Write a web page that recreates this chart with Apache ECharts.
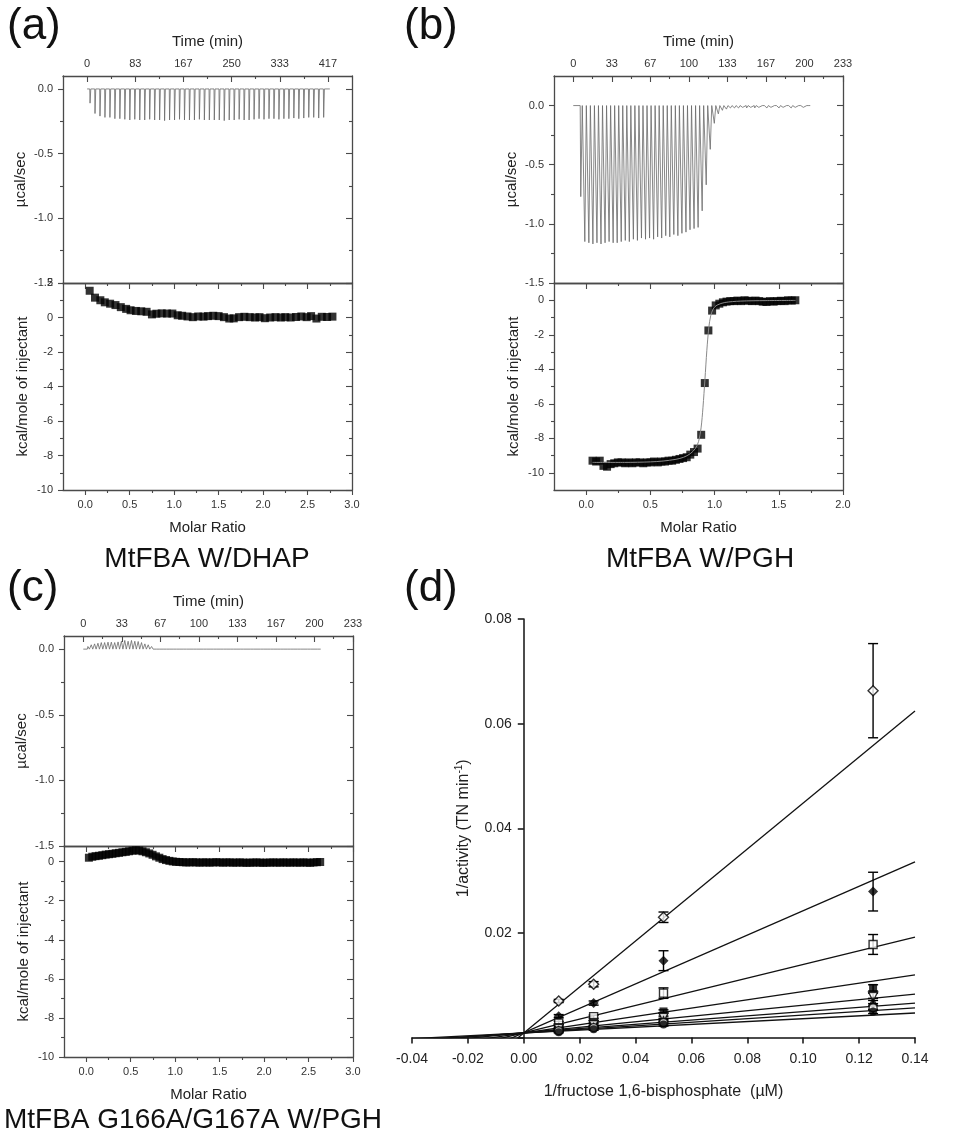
<!DOCTYPE html>
<html><head><meta charset="utf-8">
<script src="https://cdn.jsdelivr.net/npm/echarts@6/dist/echarts.min.js"></script>
<style>html,body{margin:0;padding:0;background:#fff}#c{width:968px;height:1134px}</style>
</head><body><div id="c"></div>
<script>
// ---------------- DATA ----------------
// Panel (a) : MtFBA with DHAP
const aTimeTicks = [0, 83.333, 166.667, 250, 333.333, 416.667];
const aTimeMinor = [41.667, 125, 208.333, 291.667, 375];
const aRun = [0, 420];
const aInjTime = [4.6,13.2,21.8,30.4,39.0,47.6,56.2,64.8,73.4,82.0,90.6,99.2,107.8,116.4,125.0,133.6,142.2,150.8,159.4,168.0,176.6,185.2,193.8,202.4,211.0,219.6,228.2,236.8,245.4,254.0,262.6,271.2,279.8,288.4,297.0,305.6,314.2,322.8,331.4,340.0,348.6,357.2,365.8,374.4,383.0,391.6,400.2,408.8];
const aPeak = [-0.11,-0.19,-0.21,-0.22,-0.22,-0.23,-0.23,-0.235,-0.24,-0.235,-0.24,-0.24,-0.235,-0.24,-0.24,-0.245,-0.24,-0.24,-0.235,-0.24,-0.24,-0.24,-0.235,-0.24,-0.24,-0.24,-0.24,-0.245,-0.24,-0.24,-0.235,-0.24,-0.24,-0.235,-0.23,-0.235,-0.23,-0.23,-0.235,-0.23,-0.23,-0.225,-0.23,-0.225,-0.22,-0.22,-0.225,-0.22];
const aRatio = [0.05,0.11,0.17,0.22,0.28,0.34,0.40,0.46,0.51,0.57,0.63,0.69,0.75,0.80,0.86,0.92,0.98,1.04,1.09,1.15,1.21,1.27,1.33,1.38,1.44,1.50,1.56,1.62,1.67,1.73,1.79,1.85,1.91,1.96,2.02,2.08,2.14,2.20,2.25,2.31,2.37,2.43,2.49,2.54,2.60,2.66,2.72,2.78];
const aHeat = [1.55,1.15,1.00,0.88,0.80,0.72,0.60,0.50,0.42,0.38,0.36,0.33,0.18,0.22,0.24,0.23,0.23,0.13,0.10,0.06,0.02,0.06,0.05,0.08,0.10,0.08,0.02,-0.06,-0.05,0.02,0.04,0.02,0.00,0.02,-0.04,0.00,0.02,0.00,0.02,0.00,0.03,0.06,0.02,0.08,-0.06,0.04,0.03,0.05];

// Panel (b) : MtFBA with PGH
const bTimeTicks = [0, 33.333, 66.667, 100, 133.333, 166.667, 200, 233.333];
const bTimeMinor = [16.667, 50, 83.333, 116.667, 150, 183.333, 216.667];
const bRun = [0, 205];
const bInjTime = [6.0,9.5,13.0,16.5,20.0,23.5,27.0,30.5,34.0,37.5,41.0,44.5,48.0,51.5,55.0,58.5,62.0,65.5,69.0,72.5,76.0,79.5,83.0,86.5,90.0,93.5,97.0,100.5,104.0,107.5,111.0,114.5,118.0,121.5,125.0,128.5,132.0,135.5,139.0,142.5,146.0,149.5,153.0,156.5,160.0,163.5,167.0,170.5,174.0,177.5,181.0,184.5,188.0,191.5,195.0,198.5,202.0];
const bPeak = [-0.77,-1.15,-1.16,-1.17,-1.16,-1.17,-1.16,-1.15,-1.16,-1.16,-1.15,-1.14,-1.15,-1.13,-1.14,-1.12,-1.13,-1.12,-1.13,-1.11,-1.12,-1.10,-1.11,-1.09,-1.10,-1.08,-1.07,-1.05,-1.04,-1.03,-0.89,-0.67,-0.37,-0.15,-0.07,-0.04,-0.03,-0.02,-0.02,-0.02,-0.015,-0.02,-0.015,-0.02,-0.015,-0.015,-0.02,-0.015,-0.015,-0.02,-0.015,-0.015,-0.02,-0.015,-0.015,-0.015,-0.015];
const bRatio = [0.050,0.078,0.106,0.135,0.163,0.191,0.219,0.247,0.276,0.304,0.332,0.360,0.388,0.417,0.445,0.473,0.501,0.529,0.558,0.586,0.614,0.642,0.670,0.699,0.727,0.755,0.783,0.811,0.840,0.868,0.896,0.924,0.952,0.981,1.009,1.037,1.065,1.093,1.122,1.150,1.178,1.206,1.234,1.263,1.291,1.319,1.347,1.375,1.404,1.432,1.460,1.488,1.516,1.545,1.573,1.601,1.629];
const bHeat = [-9.30,-9.35,-9.30,-9.60,-9.65,-9.50,-9.45,-9.40,-9.40,-9.45,-9.40,-9.45,-9.40,-9.40,-9.45,-9.40,-9.40,-9.35,-9.40,-9.35,-9.35,-9.30,-9.30,-9.25,-9.20,-9.15,-9.10,-8.95,-8.80,-8.60,-7.80,-4.80,-1.75,-0.60,-0.30,-0.20,-0.12,-0.08,-0.05,-0.05,-0.02,-0.05,0.00,-0.03,-0.05,-0.02,-0.05,-0.08,-0.10,-0.05,-0.08,-0.05,-0.03,-0.05,0.00,-0.02,0.00];
const bFitRatio = [0.05,0.30,0.50,0.60,0.70,0.76,0.81,0.85,0.875,0.895,0.91,0.925,0.94,0.955,0.97,0.99,1.02,1.08,1.20,1.40,1.63];
const bFitHeat = [-9.40,-9.40,-9.37,-9.32,-9.22,-9.10,-8.90,-8.60,-8.20,-7.40,-6.20,-4.60,-2.90,-1.60,-0.90,-0.50,-0.28,-0.13,-0.05,-0.02,-0.01];

// Panel (c) : MtFBA G166A/G167A with PGH
const cTimeTicks = [0, 33.333, 66.667, 100, 133.333, 166.667, 200, 233.333];
const cTimeMinor = [16.667, 50, 83.333, 116.667, 150, 183.333, 216.667];
const cRun = [0, 206];
const cInjTime = [3.5,6.4,9.3,12.2,15.1,18.0,20.9,23.8,26.7,29.6,32.5,35.4,38.3,41.2,44.1,47.0,49.9,52.8,55.7,58.6,61.5,64.4,67.3,70.2,73.1,76.0,78.9,81.8,84.7,87.6,90.5,93.4,96.3,99.2,102.1,105.0,107.9,110.8,113.7,116.6,119.5,122.4,125.3,128.2,131.1,134.0,136.9,139.8,142.7,145.6,148.5,151.4,154.3,157.2,160.1,163.0,165.9,168.8,171.7,174.6,177.5,180.4,183.3,186.2,189.1,192.0,194.9,197.8,200.7,203.6];
const cPeak = [0.020,0.033,0.040,0.045,0.050,0.050,0.053,0.053,0.050,0.055,0.060,0.066,0.060,0.066,0.060,0.058,0.050,0.040,0.033,0.020,0.013,0.008,0.005,0.004,0.003,0.003,0.003,0.002,0.003,0.002,0.003,0.002,0.002,0.003,0.002,0.002,0.003,0.002,0.002,0.003,0.002,0.002,0.003,0.002,0.002,0.003,0.002,0.002,0.003,0.002,0.002,0.003,0.002,0.002,0.003,0.002,0.002,0.003,0.002,0.002,0.003,0.002,0.002,0.003,0.002,0.002,0.003,0.002,0.002,0.003];
const cRatio = [0.030,0.068,0.105,0.143,0.181,0.219,0.256,0.294,0.332,0.369,0.407,0.445,0.482,0.520,0.558,0.596,0.633,0.671,0.709,0.746,0.784,0.822,0.859,0.897,0.935,0.973,1.010,1.048,1.086,1.123,1.161,1.199,1.236,1.274,1.312,1.350,1.387,1.425,1.463,1.500,1.538,1.576,1.613,1.651,1.689,1.727,1.764,1.802,1.840,1.877,1.915,1.953,1.990,2.028,2.066,2.104,2.141,2.179,2.217,2.254,2.292,2.330,2.367,2.405,2.443,2.481,2.518,2.556,2.594,2.631];
const cHeat = [0.20,0.25,0.28,0.30,0.33,0.36,0.38,0.40,0.43,0.45,0.48,0.50,0.53,0.56,0.58,0.57,0.53,0.48,0.42,0.35,0.27,0.20,0.13,0.08,0.04,0.01,-0.01,-0.02,-0.03,-0.04,-0.04,-0.03,-0.04,-0.05,-0.04,-0.04,-0.05,-0.04,-0.03,-0.04,-0.05,-0.04,-0.04,-0.05,-0.05,-0.04,-0.05,-0.06,-0.05,-0.05,-0.04,-0.05,-0.06,-0.05,-0.05,-0.04,-0.05,-0.05,-0.04,-0.05,-0.05,-0.04,-0.05,-0.05,-0.04,-0.05,-0.06,-0.04,-0.03,-0.02];

// ITC axis ticks shared
const powerTicks = [0, -0.5, -1.0, -1.5];
const powerMinor = [-0.25, -0.75, -1.25];
const ratioTicks3 = [0, 0.5, 1.0, 1.5, 2.0, 2.5, 3.0];
const ratioMinor3 = [0.25, 0.75, 1.25, 1.75, 2.25, 2.75];
const ratioTicks2 = [0, 0.5, 1.0, 1.5, 2.0];
const ratioMinor2 = [0.25, 0.75, 1.25, 1.75];
const heatTicks = [0, -2, -4, -6, -8, -10];
const heatTicksA = [2, 0, -2, -4, -6, -8, -10];
const heatMinorA = [1, -1, -3, -5, -7, -9];
const heatMinor = [-1, -3, -5, -7, -9];

// Panel (d) : double reciprocal plot
const dConc = [0.0125, 0.025, 0.05, 0.125];
const dMean = [
  [0.0070, 0.0102, 0.0230, 0.0663],
  [0.0041, 0.0066, 0.0147, 0.0279],
  [0.0028, 0.0040, 0.0085, 0.0178],
  [0.0020, 0.0030, 0.0050, 0.0095],
  [0.0017, 0.0024, 0.0038, 0.0078],
  [0.0015, 0.0021, 0.0034, 0.0070],
  [0.0013, 0.0019, 0.0029, 0.0057],
  [0.0010, 0.0016, 0.0025, 0.0050]
];
const dErr = [
  [0.0003, 0.0005, 0.0010, 0.0090],
  [0.0003, 0.0004, 0.0019, 0.0037],
  [0.0003, 0.0003, 0.0010, 0.0019],
  [0.0002, 0.0002, 0.0003, 0.0006],
  [0.0002, 0.0002, 0.0003, 0.0007],
  [0.0002, 0.0002, 0.0003, 0.0005],
  [0.0002, 0.0002, 0.0003, 0.0005],
  [0.0001, 0.0002, 0.0003, 0.0004]
];
const fitX = [-0.04, 0.14];
const fitLeftY = [-0.0167, -0.0084, -0.0043, -0.0023, -0.0012, -0.0007, -0.0005, -0.0002];
const fitRightY = [0.0624, 0.0336, 0.0192, 0.0120, 0.0083, 0.0066, 0.0057, 0.0047];

const panelLetters = ['(a)', '(b)', '(c)', '(d)'];
const captions = ['MtFBA W/DHAP', 'MtFBA W/PGH', 'MtFBA G166A/G167A W/PGH'];

// ---------------- BUILD ----------------
const FONT = "'Liberation Sans', Arial, Helvetica, sans-serif";
const FRAME = '#4a4a4a';
const LABEL = '#333';
const grids = [], xAxes = [], yAxes = [], series = [];

function ax(kind, gi, pos, min, max, o) {
  o = o || {};
  const a = {
    type: 'value', gridIndex: gi, position: pos, min: min, max: max,
    axisLine: { show: !!o.line, onZero: false, lineStyle: { color: FRAME, width: 1.3 } },
    axisTick: o.ticks ? { show: true, inside: !!o.inside, length: o.len || 5, customValues: o.ticks, lineStyle: { color: FRAME, width: 1.1 } } : { show: false },
    axisLabel: o.labels ? { show: true, customValues: o.labels, formatter: o.fmt, margin: o.margin || 8, fontSize: 11, color: LABEL, fontFamily: FONT } : { show: false },
    splitLine: { show: false }, minorTick: { show: false }, minorSplitLine: { show: false }
  };
  if (o.name) {
    a.name = o.name; a.nameLocation = 'middle'; a.nameGap = o.nameGap;
    a.nameTextStyle = { fontSize: 15, color: '#222', fontFamily: FONT };
  }
  const arr = kind === 'x' ? xAxes : yAxes;
  arr.push(a); return arr.length - 1;
}

function itc(P) {
  const w = P.r - P.l, U = P.up, L = P.lo;
  const gU = grids.push({ left: P.l, top: P.t, width: w, height: P.m - P.t, outerBoundsMode: 'none' }) - 1;
  const gL = grids.push({ left: P.l, top: P.m, width: w, height: P.b - P.m, outerBoundsMode: 'none' }) - 1;
  const fmtInt = v => String(Math.round(v));
  const xT = ax('x', gU, 'top', U.xmin, U.xmax, { line: true, ticks: U.xMaj, inside: true, len: 6, labels: U.xMaj, fmt: fmtInt, margin: 7, name: 'Time (min)', nameGap: 27 });
  ax('x', gU, 'top', U.xmin, U.xmax, { ticks: U.xMin, inside: true, len: 3 });
  ax('x', gU, 'bottom', U.xmin, U.xmax, { line: true });
  const yU = ax('y', gU, 'left', U.ymin, U.ymax, { line: true, ticks: U.yMaj, len: 5, labels: U.yMaj, fmt: v => v.toFixed(1), margin: 10, name: 'µcal/sec', nameGap: 35 });
  ax('y', gU, 'left', U.ymin, U.ymax, { ticks: U.yMin, len: 3 });
  ax('y', gU, 'right', U.ymin, U.ymax, { line: true, ticks: U.yMaj, inside: true, len: 6 });
  ax('y', gU, 'right', U.ymin, U.ymax, { ticks: U.yMin, inside: true, len: 3 });

  const xB = ax('x', gL, 'bottom', L.xmin, L.xmax, { line: true, ticks: L.xMaj, len: 5, labels: L.xMaj, fmt: v => v.toFixed(1), margin: 9, name: 'Molar Ratio', nameGap: 30 });
  ax('x', gL, 'bottom', L.xmin, L.xmax, { ticks: L.xMin, len: 3 });
  ax('x', gL, 'top', L.xmin, L.xmax, { line: true, ticks: L.xMaj, inside: true, len: 6 });
  ax('x', gL, 'top', L.xmin, L.xmax, { ticks: L.xMin, inside: true, len: 3 });
  const yL = ax('y', gL, 'left', L.ymin, L.ymax, { line: true, ticks: L.yMaj, len: 5, labels: L.yMaj, fmt: fmtInt, margin: 10, name: 'kcal/mole of injectant', nameGap: 33 });
  ax('y', gL, 'left', L.ymin, L.ymax, { ticks: L.yMin, len: 3 });
  ax('y', gL, 'right', L.ymin, L.ymax, { line: true, ticks: L.yMaj, inside: true, len: 6 });
  ax('y', gL, 'right', L.ymin, L.ymax, { ticks: L.yMin, inside: true, len: 3 });

  // thermogram line built from injection times & peak heights
  const d = [[P.run[0], 0]];
  P.inj.forEach((t, i) => { d.push([t, 0], [t + 0.5, P.peak[i]], [t + 1.8, 0]); });
  d.push([P.run[1], 0]);
  series.push({ type: 'line', xAxisIndex: xT, yAxisIndex: yU, data: d, showSymbol: false, symbol: 'none',
    lineStyle: { color: '#6a6a6a', width: 0.8 }, animation: false, z: 3 });
  series.push({ type: 'scatter', xAxisIndex: xB, yAxisIndex: yL, data: P.ratio.map((x, i) => [x, P.heat[i]]),
    symbol: 'rect', symbolSize: 8, itemStyle: { color: '#000' }, animation: false, z: 3 });
  if (P.fitX) {
    series.push({ type: 'line', xAxisIndex: xB, yAxisIndex: yL, data: P.fitX.map((x, i) => [x, P.fitY[i]]), smooth: 0.3,
      showSymbol: false, symbol: 'none', lineStyle: { color: '#8a8a8a', width: 1 }, animation: false, z: 4 });
  }
}

itc({ l: 63, r: 352, t: 76, m: 283, b: 490, run: aRun, inj: aInjTime, peak: aPeak, ratio: aRatio, heat: aHeat,
  up: { xmin: -41.667, xmax: 458.333, xMaj: aTimeTicks, xMin: aTimeMinor, ymin: -1.5, ymax: 0.1, yMaj: powerTicks, yMin: powerMinor },
  lo: { xmin: -0.25, xmax: 3.0, xMaj: ratioTicks3, xMin: ratioMinor3, ymin: -10, ymax: 2, yMaj: heatTicksA, yMin: heatMinorA } });

itc({ l: 554, r: 843, t: 76, m: 283, b: 490, run: bRun, inj: bInjTime, peak: bPeak, ratio: bRatio, heat: bHeat, fitX: bFitRatio, fitY: bFitHeat,
  up: { xmin: -16.667, xmax: 233.333, xMaj: bTimeTicks, xMin: bTimeMinor, ymin: -1.5, ymax: 0.25, yMaj: powerTicks, yMin: powerMinor },
  lo: { xmin: -0.25, xmax: 2.0, xMaj: ratioTicks2, xMin: ratioMinor2, ymin: -11, ymax: 1, yMaj: heatTicks, yMin: heatMinor } });

itc({ l: 64, r: 353, t: 636, m: 846, b: 1057, run: cRun, inj: cInjTime, peak: cPeak, ratio: cRatio, heat: cHeat,
  up: { xmin: -16.667, xmax: 233.333, xMaj: cTimeTicks, xMin: cTimeMinor, ymin: -1.5, ymax: 0.1, yMaj: powerTicks, yMin: powerMinor },
  lo: { xmin: -0.25, xmax: 3.0, xMaj: ratioTicks3, xMin: ratioMinor3, ymin: -10, ymax: 0.8, yMaj: heatTicks, yMin: heatMinor } });

// Panel (d)
const D_LEFT = 412, D_WIDTH = 503, D_XMIN = -0.04, D_XMAX = 0.14;
const gD = grids.push({ left: D_LEFT, top: 619, width: D_WIDTH, height: 418.6, outerBoundsMode: 'none' }) - 1;
const xD = xAxes.push({ type: 'value', gridIndex: gD, position: 'bottom', min: D_XMIN, max: D_XMAX, interval: 0.02,
  axisLine: { show: true, onZero: false, lineStyle: { color: '#111', width: 1.5 } },
  axisTick: { show: true, inside: false, length: 6, lineStyle: { color: '#111', width: 1.5 } },
  axisLabel: { margin: 15, fontSize: 14, color: '#222', fontFamily: FONT, formatter: v => (Math.abs(v) < 1e-9 ? 0 : v).toFixed(2) },
  splitLine: { show: false },
  name: '1/fructose 1,6-bisphosphate  (µM)', nameLocation: 'middle', nameGap: 46,
  nameTextStyle: { fontSize: 16, color: '#222', fontFamily: FONT } }) - 1;
// y axis sits at x = 0: shift it inward from the grid's left edge
const yOffset = -(0 - D_XMIN) / (D_XMAX - D_XMIN) * D_WIDTH;
const yD = yAxes.push({ type: 'value', gridIndex: gD, position: 'left', offset: yOffset, min: 0, max: 0.08, interval: 0.02,
  axisLine: { show: true, onZero: false, lineStyle: { color: '#111', width: 1.5 } },
  axisTick: { show: true, inside: false, length: 6, lineStyle: { color: '#111', width: 1.5 } },
  axisLabel: { margin: 12, fontSize: 14, color: '#222', fontFamily: FONT, formatter: v => (v < 1e-9 ? '' : v.toFixed(2)) },
  splitLine: { show: false },
  name: '{n|1/activity (TN min}{s|-1}{n|)}', nameLocation: 'middle', nameGap: 50,
  nameTextStyle: { fontFamily: FONT, color: '#222', rich: {
    n: { fontSize: 16, fontFamily: FONT, color: '#222', lineHeight: 20 },
    s: { fontSize: 10, fontFamily: FONT, color: '#222', verticalAlign: 'top', lineHeight: 20, padding: [0, 0, 6, 0] } } } }) - 1;

fitLeftY.forEach((yl, i) => {
  series.push({ type: 'line', xAxisIndex: xD, yAxisIndex: yD, data: [[fitX[0], yl], [fitX[1], fitRightY[i]]],
    showSymbol: false, symbol: 'none', clip: true, lineStyle: { color: '#111', width: 1.3 }, animation: false, z: 2 });
});
function errRender(params, api) {
  const x = api.value(0), lo = api.value(1), hi = api.value(2);
  const p1 = api.coord([x, lo]), p2 = api.coord([x, hi]), w = 5;
  const st = { stroke: '#000', lineWidth: 1.4 };
  return { type: 'group', children: [
    { type: 'line', shape: { x1: p1[0], y1: p1[1], x2: p2[0], y2: p2[1] }, style: st },
    { type: 'line', shape: { x1: p1[0] - w, y1: p1[1], x2: p1[0] + w, y2: p1[1] }, style: st },
    { type: 'line', shape: { x1: p2[0] - w, y1: p2[1], x2: p2[0] + w, y2: p2[1] }, style: st } ] };
}
const mSym = ['diamond', 'diamond', 'rect', 'rect', 'triangle', 'triangle', 'circle', 'circle'];
const mSize = [10, 10, 8, 8, 9, 9, 8, 8];
const mRot = [0, 0, 0, 0, 180, 0, 0, 0];
dMean.forEach((row, g) => {
  series.push({ type: 'custom', xAxisIndex: xD, yAxisIndex: yD, renderItem: errRender,
    data: row.map((y, i) => [dConc[i], y - dErr[g][i], y + dErr[g][i]]), animation: false, z: 3 });
  const filled = g % 2 === 1;
  series.push({ type: 'scatter', xAxisIndex: xD, yAxisIndex: yD, data: row.map((y, i) => [dConc[i], y]),
    symbol: mSym[g], symbolSize: mSize[g], symbolRotate: mRot[g],
    itemStyle: filled ? { color: '#000' } : { color: '#fff', borderColor: '#000', borderWidth: 1.4 },
    animation: false, z: 4 });
});

const textStyle = (t, size, align, valign) => ({ text: t, font: size + 'px ' + FONT, fill: '#111',
  textAlign: align, textVerticalAlign: valign, align: align, verticalAlign: valign });
const graphic = [
  { type: 'text', x: 7, y: 5, style: textStyle(panelLetters[0], 44, 'left', 'top') },
  { type: 'text', x: 404, y: 5, style: textStyle(panelLetters[1], 44, 'left', 'top') },
  { type: 'text', x: 7, y: 567, style: textStyle(panelLetters[2], 44, 'left', 'top') },
  { type: 'text', x: 404, y: 567, style: textStyle(panelLetters[3], 44, 'left', 'top') },
  { type: 'text', x: 207, y: 559, style: textStyle(captions[0], 28, 'center', 'middle') },
  { type: 'text', x: 700, y: 559, style: textStyle(captions[1], 28, 'center', 'middle') },
  { type: 'text', x: 193, y: 1120, style: textStyle(captions[2], 28, 'center', 'middle') }
];

const chart = echarts.init(document.getElementById('c'), null, { renderer: 'canvas' });
chart.setOption({ backgroundColor: '#fff', animation: false, grid: grids, xAxis: xAxes, yAxis: yAxes, series: series, graphic: graphic });
</script></body></html>
